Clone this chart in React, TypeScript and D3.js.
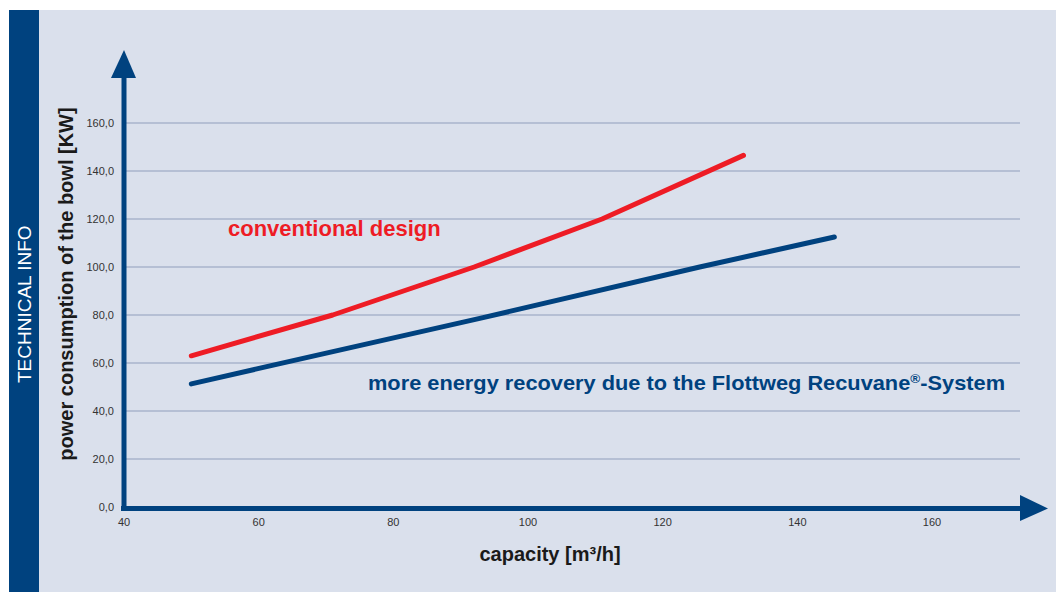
import { useEffect, useRef } from 'react';
import * as d3 from 'd3';

// capacity [m³/h] vs power consumption [KW]
const conventionalX = [50, 71, 92, 111, 132];
const conventionalY = [63, 80, 100, 120, 146.5];
const recuvaneX = [50, 62, 93, 125.5, 145.5];
const recuvaneY = [51.3, 59, 78.7, 100, 112.5];

const xTicks = [40, 60, 80, 100, 120, 140, 160];
const yTicks = [0, 20, 40, 60, 80, 100, 120, 140, 160];

const W = 1056;
const H = 592;
const DARK_BLUE = '#00427f';
const RED = '#ee1c25';
const FONT = '"Liberation Sans", Arial, sans-serif';

export default function App() {
  const svgRef = useRef<SVGSVGElement>(null);

  useEffect(() => {
    if (!svgRef.current) return;
    const svg = d3.select(svgRef.current);
    svg.selectAll('*').remove();

    const x = d3.scaleLinear().domain([40, 160]).range([124, 932]);
    const y = d3.scaleLinear().domain([0, 160]).range([507, 123]);

    // backgrounds
    svg.append('rect').attr('width', W).attr('height', H).attr('fill', '#ffffff');
    svg.append('rect').attr('x', 9).attr('y', 10).attr('width', W - 9).attr('height', H - 10).attr('fill', '#dae0ec');
    svg.append('rect').attr('x', 9).attr('y', 10).attr('width', 30).attr('height', H - 10).attr('fill', DARK_BLUE);

    svg.append('text')
      .attr('transform', 'translate(31,383) rotate(-90)')
      .attr('fill', '#ffffff')
      .style('font-family', FONT)
      .style('font-size', '19px')
      .text('TECHNICAL INFO');

    // grid
    svg.selectAll('.grid')
      .data(yTicks.filter(d => d > 0))
      .enter()
      .append('line')
      .attr('x1', 124)
      .attr('x2', 1020)
      .attr('y1', d => y(d))
      .attr('y2', d => y(d))
      .attr('stroke', '#a8b4cc')
      .attr('stroke-width', 1.3);

    // y tick labels
    svg.selectAll('.ylab')
      .data(yTicks)
      .enter()
      .append('text')
      .attr('x', 114)
      .attr('y', d => y(d) + 4)
      .attr('text-anchor', 'end')
      .attr('fill', '#333333')
      .style('font-family', FONT)
      .style('font-size', '11px')
      .text(d => d3.format('.1f')(d).replace('.', ','));

    // x tick labels
    svg.selectAll('.xlab')
      .data(xTicks)
      .enter()
      .append('text')
      .attr('x', d => x(d))
      .attr('y', 526)
      .attr('text-anchor', 'middle')
      .attr('fill', '#333333')
      .style('font-family', FONT)
      .style('font-size', '11px')
      .text(d => d);

    // axes with arrows
    svg.append('line')
      .attr('x1', 124).attr('x2', 124).attr('y1', 511).attr('y2', 76)
      .attr('stroke', DARK_BLUE).attr('stroke-width', 5);
    svg.append('path')
      .attr('d', 'M111,78 L124,50 L136,78 Z')
      .attr('fill', DARK_BLUE);
    svg.append('line')
      .attr('x1', 121).attr('x2', 1022).attr('y1', 508.5).attr('y2', 508.5)
      .attr('stroke', DARK_BLUE).attr('stroke-width', 5);
    svg.append('path')
      .attr('d', 'M1020,495 L1048,508.5 L1020,521 Z')
      .attr('fill', DARK_BLUE);

    // series
    const line = d3.line<[number, number]>()
      .x(d => x(d[0]))
      .y(d => y(d[1]))
      .curve(d3.curveLinear);

    const conv = conventionalX.map((v, i) => [v, conventionalY[i]] as [number, number]);
    const recu = recuvaneX.map((v, i) => [v, recuvaneY[i]] as [number, number]);

    svg.append('path')
      .attr('d', line(recu))
      .attr('fill', 'none')
      .attr('stroke', DARK_BLUE)
      .attr('stroke-width', 5)
      .attr('stroke-linecap', 'round')
      .attr('stroke-linejoin', 'round');

    svg.append('path')
      .attr('d', line(conv))
      .attr('fill', 'none')
      .attr('stroke', RED)
      .attr('stroke-width', 5)
      .attr('stroke-linecap', 'round')
      .attr('stroke-linejoin', 'round');

    // annotations
    svg.append('text')
      .attr('x', 228)
      .attr('y', 236)
      .attr('fill', RED)
      .style('font-family', FONT)
      .style('font-weight', 'bold')
      .style('font-size', '22px')
      .text('conventional design');

    const t = svg.append('text')
      .attr('x', 368)
      .attr('y', 390)
      .attr('fill', DARK_BLUE)
      .style('font-family', FONT)
      .style('font-weight', 'bold')
      .style('font-size', '21px')
      .attr('textLength', 637)
      .attr('lengthAdjust', 'spacingAndGlyphs');
    t.append('tspan').text('more energy recovery due to the Flottweg Recuvane');
    t.append('tspan').attr('dy', -7).style('font-size', '13px').text('®');
    t.append('tspan').attr('dy', 7).text('-System');

    // axis titles
    svg.append('text')
      .attr('transform', 'translate(73,284) rotate(-90)')
      .attr('text-anchor', 'middle')
      .attr('fill', '#1a1a1a')
      .style('font-family', FONT)
      .style('font-weight', 'bold')
      .style('font-size', '20px')
      .text('power consumption of the bowl [KW]');

    const xt = svg.append('text')
      .attr('x', 550)
      .attr('y', 561)
      .attr('text-anchor', 'middle')
      .attr('fill', '#1a1a1a')
      .style('font-family', FONT)
      .style('font-weight', 'bold')
      .style('font-size', '20px');
    xt.text('capacity [m³/h]');
  }, []);

  return (
    <svg
      ref={svgRef}
      width={W}
      height={H}
      style={{ position: 'absolute', left: 0, top: 0, display: 'block' }}
    />
  );
}
